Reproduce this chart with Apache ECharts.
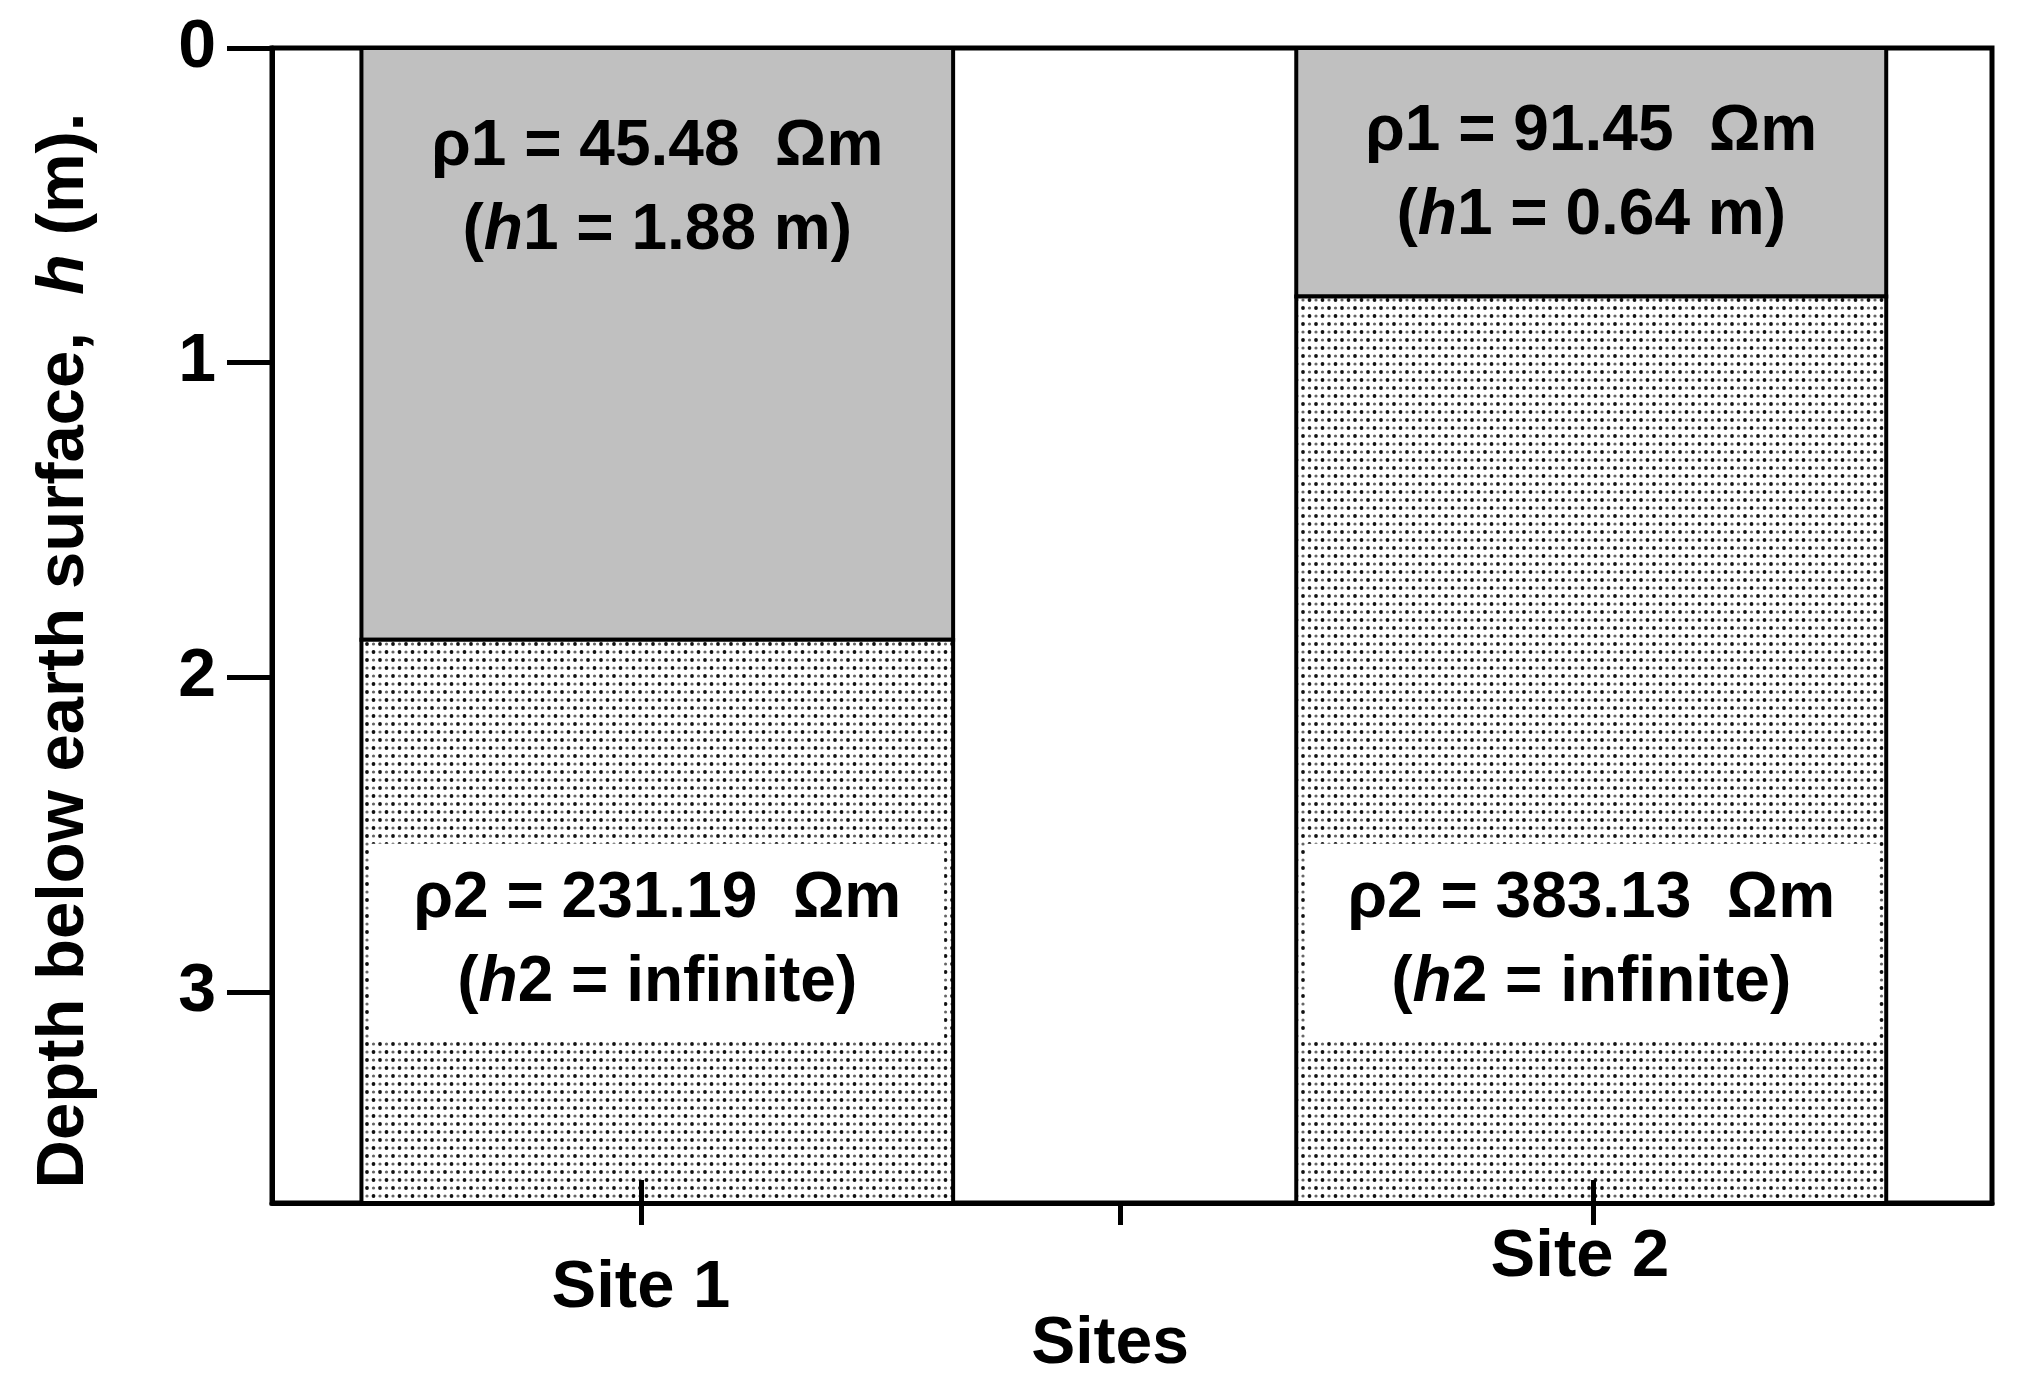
<!DOCTYPE html>
<html lang="en">
<head>
  <meta charset="UTF-8" />
  <title>Two-layer earth model at the two sites</title>
  <script src="https://cdn.jsdelivr.net/npm/echarts@6.0.0/dist/echarts.min.js"></script>
  <style>
    html, body { margin: 0; padding: 0; background: #fff; }
    #chart { width: 2018px; height: 1398px; }
  </style>
</head>
<body>
  <div id="chart"></div>

  <script>
    // ---- data ----
    const sites = ['Site 1', 'Site 2'];
    const siteCenter = [22.4, 76.7];      // column centre on the 0-100 site axis
    const columnWidth = [34.4, 34.3];     // column width on the same axis
    const siteTicks = [21.45, 76.8];      // where the site ticks/labels sit
    const allTicks = [21.45, 49.3, 76.8];
    const layer1Bottom = [1.88, 0.79];    // drawn depth of the layer boundary (m)
    const modelBottom = [3.67, 3.67];
    const rho1 = ['45.48', '91.45'];
    const h1 = ['1.88', '0.64'];
    const rho2 = ['231.19', '383.13'];
    const depthTicks = [0, 1, 2, 3];

    // ---- layout / style ----
    const FONT = '"Liberation Sans", Arial, Helvetica, sans-serif';
    const upperLabelDepth = [0.45, 0.40];
    const lowerLabelDepth = [2.84, 2.84];
    const gridBox = { left: 272, right: 26, top: 48, bottom: 195 };

    function dotPattern() {
      const c = document.createElement('canvas');
      c.width = 13; c.height = 16;
      const g = c.getContext('2d');
      g.fillStyle = '#fff';
      g.fillRect(0, 0, 13, 16);
      const dot = (x, y, r, col) => {
        g.fillStyle = col; g.beginPath(); g.arc(x, y, r, 0, Math.PI * 2); g.fill();
      };
      dot(3, 4, 1.9, '#111'); dot(9.5, 12, 1.9, '#111');
      dot(9.5, 4, 1.6, '#666'); dot(3, 12, 1.6, '#666');
      return c;
    }
    const dots = { image: dotPattern(), repeat: 'repeat' };

    const tok = (extra) => Object.assign({
      fontFamily: FONT, fontWeight: 'bold', fontSize: 64, fill: '#000'
    }, extra || {});
    const textRich = { b: tok(), i: tok({ fontStyle: 'italic' }) };
    const axisFont = (extra) => Object.assign({
      fontFamily: FONT, fontWeight: 'bold', fontSize: 67, color: '#000'
    }, extra || {});

    function layerRect(fill) {
      return function (params, api) {
        const x = api.value(0), w = api.value(3);
        const p0 = api.coord([x - w / 2, api.value(1)]);
        const p1 = api.coord([x + w / 2, api.value(2)]);
        return {
          type: 'rect',
          shape: { x: p0[0], y: p0[1], width: p1[0] - p0[0], height: p1[1] - p0[1] },
          style: { fill: fill, stroke: '#000', lineWidth: 4 }
        };
      };
    }

    const upperData = sites.map((s, i) => [siteCenter[i], 0, layer1Bottom[i], columnWidth[i]]);
    const lowerData = sites.map((s, i) => [siteCenter[i], layer1Bottom[i], modelBottom[i], columnWidth[i]]);

    const chart = echarts.init(document.getElementById('chart'));

    chart.setOption({
      backgroundColor: '#fff',
      animation: false,
      grid: [
        Object.assign({ show: true, borderColor: '#000', borderWidth: 5, backgroundColor: 'transparent' }, gridBox),
        Object.assign({ show: false }, gridBox)
      ],
      xAxis: [{
        type: 'value', min: 0, max: 100, gridIndex: 0, position: 'bottom',
        name: 'Sites', nameLocation: 'middle', nameGap: 109, nameMoveOverlap: false,
        nameTextStyle: axisFont({ fontSize: 66, padding: [0, 44, 0, 0] }),
        axisLine: { onZero: false, lineStyle: { color: '#000', width: 5 } },
        axisTick: { show: true, inside: false, length: 22, customValues: allTicks, lineStyle: { color: '#000', width: 5 } },
        axisLabel: {
          customValues: siteTicks, margin: 20,
          formatter: v => {
            const i = siteTicks.indexOf(v);
            return '{s' + i + '|' + sites[i] + '}';
          },
          rich: {
            s0: axisFont({ lineHeight: 132 }),
            s1: axisFont({ lineHeight: 70, padding: [0, 26, 0, 0] })
          }
        },
        splitLine: { show: false }
      }, {
        // short ticks reaching into the columns at each site
        type: 'value', min: 0, max: 100, gridIndex: 1, position: 'bottom', z: 10,
        axisLine: { show: false, onZero: false },
        axisTick: { show: true, inside: true, length: 23, customValues: siteTicks, lineStyle: { color: '#000', width: 5 } },
        axisLabel: { show: false },
        splitLine: { show: false }
      }],
      yAxis: [{
        type: 'value', inverse: true, min: 0, max: modelBottom[0], gridIndex: 0,
        name: 'Depth below earth surface,  {i|h} (m).',
        nameLocation: 'middle', nameGap: 174, nameRotate: 90,
        nameTextStyle: axisFont({
          padding: [0, 50, 0, 0],
          rich: { i: axisFont({ fontStyle: 'italic' }) }
        }),
        axisLine: { onZero: false, lineStyle: { color: '#000', width: 5 } },
        axisTick: { length: 45, customValues: depthTicks, lineStyle: { color: '#000', width: 5 } },
        axisLabel: axisFont({ customValues: depthTicks, margin: 56, fontSize: 68 }),
        splitLine: { show: false }
      }, {
        type: 'value', inverse: true, min: 0, max: modelBottom[0], gridIndex: 1, show: false
      }],
      series: [{
        type: 'custom', name: 'layer 1', xAxisIndex: 0, yAxisIndex: 0,
        renderItem: layerRect('#c0c0c0'),
        data: upperData
      }, {
        type: 'custom', name: 'layer 2', xAxisIndex: 0, yAxisIndex: 0,
        renderItem: layerRect(dots),
        data: lowerData
      }, {
        type: 'custom', name: 'labels', xAxisIndex: 0, yAxisIndex: 0, z: 5,
        renderItem: function (params, api) {
          const i = params.dataIndex;
          const w = api.size([columnWidth[i], 0])[0];
          const up = api.coord([siteCenter[i], upperLabelDepth[i]]);
          const lo = api.coord([siteCenter[i], lowerLabelDepth[i]]);
          return {
            type: 'group',
            children: [{
              type: 'text',
              style: {
                x: up[0], y: up[1], align: 'center', verticalAlign: 'middle', lineHeight: 84,
                text: '{b|ρ1 = ' + rho1[i] + '  Ωm}\n{b|(}{i|h}{b|1 = ' + h1[i] + ' m)}',
                rich: textRich
              }
            }, {
              type: 'text',
              style: {
                x: lo[0], y: lo[1], align: 'center', verticalAlign: 'middle', lineHeight: 84,
                width: w - 18, padding: [14, 0, 14, 0], backgroundColor: '#fff',
                text: '{b|ρ2 = ' + rho2[i] + '  Ωm}\n{b|(}{i|h}{b|2 = infinite)}',
                rich: textRich
              }
            }]
          };
        },
        data: sites.map((s, i) => [siteCenter[i], upperLabelDepth[i]])
      }]
    });
  </script>
</body>
</html>
